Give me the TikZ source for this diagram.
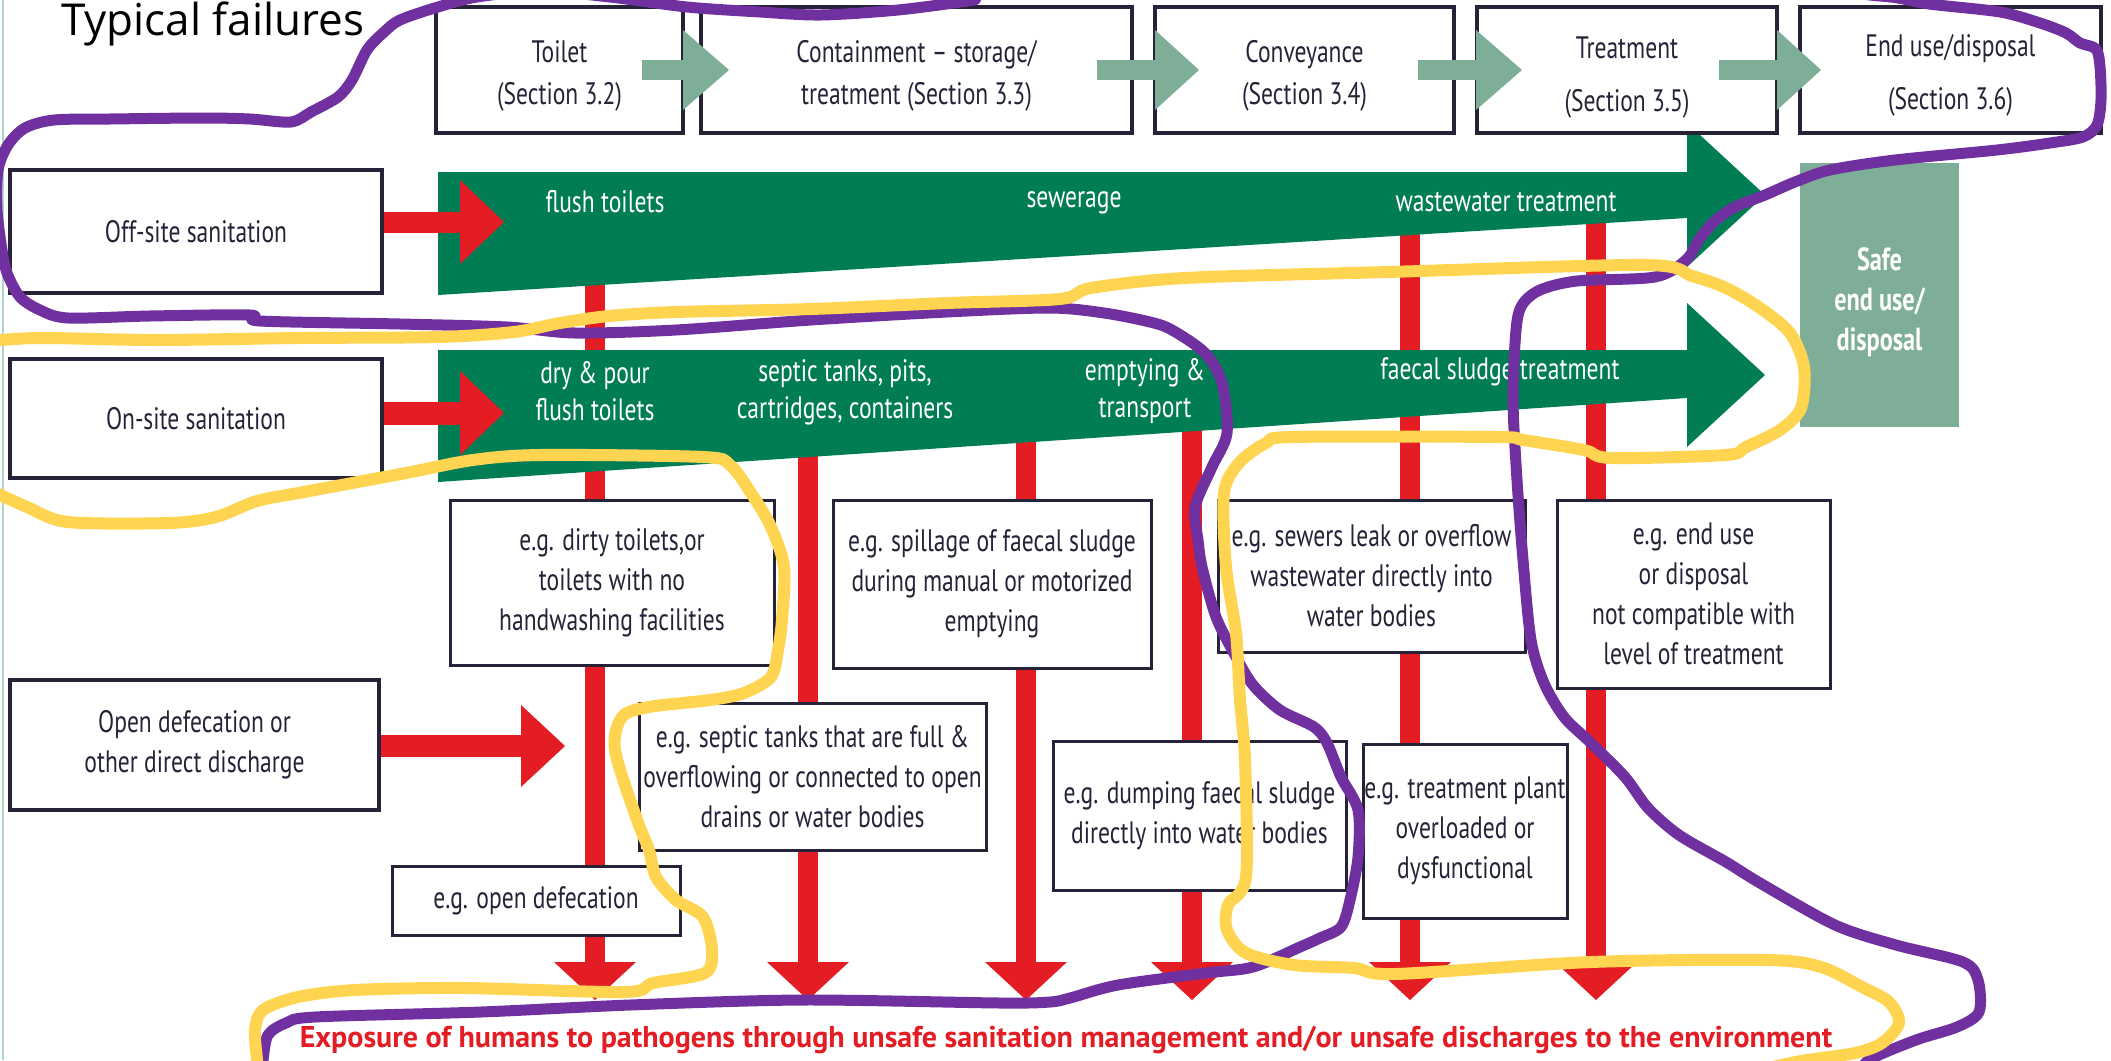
\documentclass[tikz,border=0pt]{standalone}
\usepackage{fontspec}
\setmainfont{PT Sans}[FakeStretch=0.76]
\newfontfamily\exposurefont{PT Sans}[FakeStretch=1.0]
\newfontfamily\headlinefont{Open Sans}
\usetikzlibrary{calc}

\definecolor{ink}{RGB}{38,34,56}
\definecolor{flowgreen}{RGB}{0,125,84}
\definecolor{palegreen}{RGB}{127,174,152}
\definecolor{alarm}{RGB}{228,28,36}
\definecolor{markpurple}{RGB}{112,48,160}
\definecolor{markyellow}{RGB}{255,212,80}
\definecolor{edgeteal}{RGB}{168,214,200}

\begin{document}
\begin{tikzpicture}[x=1pt,y=-1pt,
  stagebox/.style={draw=ink,line width=3.5pt,fill=white,inner sep=0pt,text=ink,align=center,
    text height=76pt,font=\fontsize{31}{42}\selectfont},
  failbox/.style={draw=ink,line width=3pt,fill=white,inner sep=0pt,text=ink,align=center,
    font=\fontsize{31}{40}\selectfont},
  bandlabel/.style={text=white,align=center,inner sep=0pt,font=\fontsize{31}{37}\selectfont},
  redshaft/.style={draw=alarm,line width=20pt},
  paleshaft/.style={draw=palegreen,line width=20pt},
  purplemark/.style={draw=markpurple,line width=11pt,line cap=round,line join=round},
  yellowmark/.style={draw=markyellow,line width=12pt,line cap=round,line join=round},
]
\useasboundingbox (0,0) rectangle (2111,1060);
\clip (0,0) rectangle (2111,1060);
\fill[white] (0,0) rectangle (2111,1060);
\draw[edgeteal,line width=2pt] (3,0) -- (3,1060);

% red failure flows running down to the exposure line
\foreach \fx/\fy [count=\i] in {595/200,808/400,1026/400,1192/400,1410/200,1596/200}{
  \coordinate (flowtop\i) at (\fx,\fy);
  \coordinate (flowhead\i) at (\fx,962);
  \draw[redshaft] (flowtop\i) -- (flowhead\i);
  \fill[alarm] (flowhead\i) ++(-41,0) -- ++(82,0) -- ++(-41,38) -- cycle;
}

% green service-chain bands
\fill[flowgreen] (438,172) -- (1687,172) -- (1687,123) -- (1765,195) -- (1687,267)
  -- (1687,218) -- (438,295) -- cycle;
\fill[flowgreen] (438,350) -- (1687,350) -- (1687,303) -- (1765,375) -- (1687,447)
  -- (1687,398) -- (438,482) -- cycle;

\node[fill=palegreen,minimum width=159pt,minimum height=264pt,inner sep=0pt,text=white,
  align=center,text height=117pt,font=\bfseries\fontsize{32}{40}\selectfont] (safe) at (1879.5,295)
  {Safe\\end use/\\disposal};

% service chain stages
\node[stagebox,minimum width=247pt,minimum height=126pt] (toilet) at (559.5,70) {Toilet\\(Section 3.2)};
\node[stagebox,minimum width=431pt,minimum height=126pt] (contain) at (916.5,70) {Containment -- storage/\\treatment (Section 3.3)};
\node[stagebox,minimum width=299pt,minimum height=126pt] (convey) at (1304.5,70) {Conveyance\\(Section 3.4)};
\node[stagebox,minimum width=300pt,minimum height=126pt,text height=89pt,font=\fontsize{31}{53}\selectfont] (treat) at (1627,70) {Treatment\\(Section 3.5)};
\node[stagebox,minimum width=301pt,minimum height=126pt,text height=86pt,font=\fontsize{31}{53}\selectfont] (enduse) at (1950.5,70) {End use/disposal\\(Section 3.6)};

% sanitation types
\node[failbox,line width=3.5pt,minimum width=372pt,minimum height=123pt] (offsite) at (196,231.5) {Off-site sanitation};
\node[failbox,line width=3.5pt,minimum width=372pt,minimum height=119pt] (onsite) at (196,418.5) {On-site sanitation};
\node[failbox,line width=3.5pt,minimum width=369pt,minimum height=130pt] (opendisch) at (194.5,745) {Open defecation or\\other direct discharge};

% typical failures
\node[failbox,minimum width=324pt,minimum height=165pt] (dirty) at (612,582.5) {e.g. dirty toilets,or\\toilets with no\\handwashing facilities};
\node[failbox,minimum width=318pt,minimum height=168pt] (spill) at (992,584) {e.g. spillage of faecal sludge\\during manual or motorized\\emptying};
\node[failbox,minimum width=307pt,minimum height=152pt] (sewers) at (1371.5,576) {e.g. sewers leak or overflow\\wastewater directly into\\water bodies};
\node[failbox,minimum width=273pt,minimum height=188pt] (badreuse) at (1693.5,594) {e.g. end use\\or disposal\\not compatible with\\level of treatment};
\node[failbox,minimum width=347pt,minimum height=147pt] (septic) at (812.5,776.5) {e.g. septic tanks that are full \&\\overflowing or connected to open\\drains or water bodies};
\node[failbox,minimum width=293pt,minimum height=149pt] (dumping) at (1199.5,815.5) {e.g. dumping faecal sludge\\directly into water bodies};
\node[failbox,minimum width=204pt,minimum height=174pt] (plant) at (1465,831) {e.g. treatment plant\\overloaded or\\dysfunctional};
\node[failbox,minimum width=288pt,minimum height=69pt] (opendef) at (536,900.5) {e.g. open defecation};

% red inflow arrows into the bands
\coordinate (offtip) at (504,222);
\coordinate (ontip) at (504,413);
\coordinate (opentip) at (565,746);
\draw[draw=alarm,line width=21pt] (offsite.east |- offtip) -- ($(offtip)+(-44,0)$);
\fill[alarm] (offtip) -- ++(-44,-42) -- ++(0,84) -- cycle;
\draw[draw=alarm,line width=23pt] (onsite.east |- ontip) -- ($(ontip)+(-44,0)$);
\fill[alarm] (ontip) -- ++(-44,-42) -- ++(0,84) -- cycle;
\draw[draw=alarm,line width=22pt] (opendisch.east |- opentip) -- ($(opentip)+(-44,0)$);
\fill[alarm] (opentip) -- ++(-44,-41) -- ++(0,82) -- cycle;

% arrows between the stages
\foreach \sx/\bx/\tx in {642/683/729,1097/1155/1199,1418/1476/1522,1719/1777/1821}{
  \draw[paleshaft] (\sx,70) -- (\bx,70);
  \fill[palegreen] (\bx,30) -- (\tx,70) -- (\bx,110) -- cycle;
}

% band labels
\node[bandlabel] (lflush) at (605,202) {flush toilets};
\node[bandlabel] (lsewer) at (1074,203) {sewerage};
\node[bandlabel] (lwwt) at (1506,202) {wastewater treatment};
\node[bandlabel] (ldry) at (595,391) {dry \& pour\\flush toilets};
\node[bandlabel] (lseptic) at (845,392) {septic tanks, pits,\\cartridges, containers};
\node[bandlabel] (lempty) at (1145,391) {emptying \&\\transport};
\node[bandlabel] (lfstp) at (1500,372) {faecal sludge treatment};

\node[anchor=base,inner sep=0pt,text=alarm,font=\exposurefont\bfseries\fontsize{30}{30}\selectfont] (exposure)
  at (1066,1047) {Exposure of humans to pathogens through unsafe sanitation management and/or unsafe discharges to the environment};

\node[anchor=base west,inner sep=0pt,text=black,font=\headlinefont\fontsize{44}{44}\selectfont] (title)
  at (61,35) {Typical failures};

% hand-drawn markings
\draw[purplemark] plot[smooth,tension=0.5] coordinates {
 (1860,1075) (1869,1060) (1916,1040) (1957,1027) (1979,1012) (1978,980) (1963,962) (1896,945)
 (1835,925) (1760,883) (1726,862) (1679,835) (1648,808) (1625,777) (1591,743) (1564,717)
 (1544,683) (1531,640) (1523,560) (1517,480) (1513,400) (1516,330) (1522,305) (1540,290)
 (1577,281) (1655,277) (1686,260) (1700,238) (1716,220) (1735,207) (1765,195) (1795,182)
 (1830,170) (1895,160) (1997,150) (2050,143) (2083,137) (2097,125) (2101,100) (2100,67)
 (2096,49) (2080,43) (2066,33) (2040,23) (2000,12) (1929,4) (1880,-4) (1740,-10)
 (1000,-6) (974,0) (898,10) (821,15) (760,12) (687,7) (610,-3) (540,-9) (477,-3) (438,7)
 (400,20) (383,33) (367,50) (352,80) (338,97) (311,112) (291,122) (250,119) (203,118)
 (110,119) (54,120) (25,128) (8,145) (-2,170) (-3,210) (2,250) (7,273) (20,297) (40,310)
 (68,318) (150,316) (250,315) (260,321) (400,324) (507,327) (575,333) (676,330) (811,320)
 (947,312) (1050,308) (1104,313) (1150,322) (1172,330) (1205,353) (1222,383) (1227,433)
 (1212,467) (1195,507) (1198,540) (1202,567) (1216,617) (1235,655) (1253,685) (1280,710)
 (1314,727) (1327,743) (1341,777) (1358,810) (1358,857) (1350,900) (1341,927) (1320,938)
 (1300,947) (1253,967) (1206,973) (1118,985) (1070,998) (1050,1002) (1000,1003) (803,1000)
 (630,1005) (481,1012) (315,1017) (286,1023) (268,1035) (263,1060) (262,1075)};
\draw[yellowmark] plot[smooth,tension=0.5] coordinates {
 (-10,341) (40,338) (156,340) (300,338) (439,337) (514,332) (560,323) (609,316) (676,312)
 (811,309) (947,303) (1060,299) (1091,288) (1185,278) (1388,272) (1645,265) (1692,276)
 (1726,288) (1760,308) (1790,333) (1804,367) (1801,408) (1780,430) (1746,447) (1726,455)
 (1611,458) (1584,450) (1523,440) (1496,437) (1293,437) (1266,443) (1239,463) (1224,493)
 (1226,567) (1236,633) (1240,700) (1245,760) (1246,877) (1228,905) (1227,930) (1246,953)
 (1294,965) (1354,968) (1395,974) (1591,962) (1767,960) (1821,967) (1862,987) (1889,1002)
 (1899,1023) (1882,1043) (1855,1053) (1801,1061) (1760,1070)};
\draw[yellowmark] plot[smooth,tension=0.5] coordinates {
 (-10,490) (27,507) (68,522) (169,523) (216,517) (257,501) (304,492) (406,473) (473,460)
 (541,455) (703,457) (730,465) (751,493) (771,527) (784,567) (782,620) (778,650) (771,677)
 (744,693) (710,700) (649,707) (622,717) (615,750) (636,817) (649,850) (656,877) (676,900)
 (703,917) (712,950) (705,973) (653,983) (625,992) (464,988) (355,990) (298,997) (263,1010)
 (255,1030) (257,1060) (258,1075)};
\end{tikzpicture}
\end{document}
